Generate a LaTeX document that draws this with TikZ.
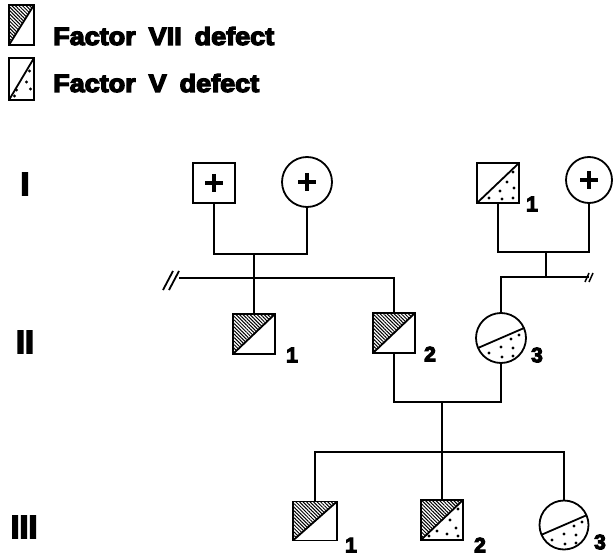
\documentclass[tikz,border=0pt]{standalone}
\usepackage{fontspec}
\setmainfont{Liberation Sans}
\newfontfamily\heavy{Liberation Sans Bold}[FakeBold=5]
\usetikzlibrary{patterns.meta}
\def\sqdots{(15,-11),(9,-1),(16,5),(2,8),(-9,15),(4,16),(15,15)}
\def\mixdots{(16,-11),(8,0),(14,8),(-5,11),(5,14),(-13,16),(16,16)}
\def\legdots{(8,-8),(5,3),(-5,11),(9,10),(-7,17)}
\def\cirdots{(10,1),(18,-3),(0,9),(12,10),(-12,15),(1,19),(12,18)}
\newcommand\wide{\spaceskip=12pt plus 0pt minus 0pt\relax}
\tikzset{
  ln/.style={line width=1.8pt},
  male/.style={draw, rectangle, line width=1.8pt, minimum width=42pt, minimum height=40pt, inner sep=0pt},
  female/.style={draw, circle, line width=1.8pt, minimum size=#1, inner sep=0pt},
  hatchTL/.style={path picture={
    \fill[pattern={Lines[angle=-45,distance=2.5pt,line width=1pt]}]
      (path picture bounding box.north west) -- (path picture bounding box.north east)
      -- (path picture bounding box.south west) -- cycle;
    \draw[line width=1.8pt] (path picture bounding box.south west) -- (path picture bounding box.north east);}},
  dotsBR/.style={path picture={
    \draw[line width=1.8pt] (path picture bounding box.south west) -- (path picture bounding box.north east);
    \begin{scope}[shift={(path picture bounding box.center)}]
      \foreach \p in #1 \fill \p circle (1.7pt);
    \end{scope}}},
  mixed/.style={path picture={
    \fill[pattern={Lines[angle=-45,distance=2.5pt,line width=1pt]}]
      (path picture bounding box.north west) -- (path picture bounding box.north east)
      -- (path picture bounding box.south west) -- cycle;
    \draw[line width=1.8pt] (path picture bounding box.south west) -- (path picture bounding box.north east);
    \begin{scope}[shift={(path picture bounding box.center)}]
      \foreach \p in #1 \fill \p circle (1.7pt);
    \end{scope}}},
  cirsplit/.style={path picture={
    \begin{scope}[shift={(path picture bounding box.center)}]
      \draw[line width=1.8pt] (-30,13) -- (30,-13);
      \foreach \p in #1 \fill \p circle (1.7pt);
    \end{scope}}},
  plus/.style={path picture={
    \begin{scope}[shift={(path picture bounding box.center)}]
      \draw[line width=4.5pt] (-9,0) -- (9,0) (0,-9) -- (0,9);
    \end{scope}}},
  legtext/.style={anchor=base west, inner sep=0pt, font=\heavy\fontsize{25}{30}\selectfont},
  gen/.style={inner sep=0pt, font=\heavy\fontsize{32}{36}\selectfont},
  num/.style={inner sep=0pt, font=\heavy\fontsize{21}{25}\selectfont},
}
\begin{document}
\begin{tikzpicture}[x=1pt,y=-1pt]
\useasboundingbox (0,0) rectangle (615,556);

% legend
\node[male, minimum width=25pt, minimum height=40pt, hatchTL] (L1) at (21.5,25) {};
\node[male, minimum width=25pt, minimum height=42pt, dotsBR=\legdots] (L2) at (21.5,79) {};
\node[legtext] (T1) at (53,45) {\scalebox{1.08}[1]{\wide Factor VII defect}};
\node[legtext] (T2) at (53,92) {\scalebox{1.08}[1]{\wide Factor V defect}};

% generation labels
\node[gen] (G1) at (25,184) {I};
\node[gen] (G2) at (25,342) {II};
\node[gen] (G3) at (24,527) {III};

% generation I
\node[male, plus] (I1) at (214,183) {};
\node[female=50pt, plus] (I2) at (307,182) {};
\node[male, dotsBR=\sqdots] (I3) at (498,183) {};
\node[female=46pt, plus] (I4) at (589,180) {};
\node[num] (n13) at (532,204) {1};

% generation II
\node[male, hatchTL] (II1) at (254,334) {};
\node[male, hatchTL] (II2) at (394,333) {};
\node[female=50pt, cirsplit=\cirdots] (II3) at (501,338) {};
\node[num] (n21) at (292,355) {1};
\node[num] (n22) at (430,354) {2};
\node[num] (n23) at (537,355) {3};

% generation III
\node[male, minimum width=44pt, minimum height=39pt, hatchTL] (III1) at (315,521) {};
\node[male, mixed=\mixdots] (III2) at (442,520) {};
\node[female=49pt, cirsplit=\cirdots] (III3) at (564,525) {};
\node[num] (n31) at (351,545) {1};
\node[num] (n32) at (480,545) {2};
\node[num] (n33) at (600,542) {3};

% junction coordinates
\coordinate (mA) at (254,254);
\coordinate (sA) at (254,278);
\coordinate (lA) at (179,278);
\coordinate (mB) at (546,252);
\coordinate (sB) at (546,277);
\coordinate (rB) at (589,277);
\coordinate (mC) at (442,402);
\coordinate (sC) at (442,452);

% connectors
\draw[ln] (I1) |- (mA) -| (I2);
\draw[ln] (mA) -- (sA);
\draw[ln] (lA) -| (II2);
\draw[ln] (sA) -- (II1);
\draw[ln] (I3) |- (mB) -| (I4);
\draw[ln] (mB) -- (sB);
\draw[ln] (II3) |- (rB);
\draw[ln] (II2) |- (mC) -| (II3);
\draw[ln] (mC) -- (sC);
\draw[ln] (III1) |- (sC) -| (III3);
\draw[ln] (sC) -- (III2);

% break marks
\draw[ln] (lA) ++(-16,12) -- ++(10,-19);
\draw[ln] (lA) ++(-10,12) -- ++(10,-19);
\draw[line width=1.5pt] (rB) ++(-4,5) -- ++(4,-9);
\draw[line width=1.5pt] (rB) ++(0,5) -- ++(4,-9);
\end{tikzpicture}
\end{document}
